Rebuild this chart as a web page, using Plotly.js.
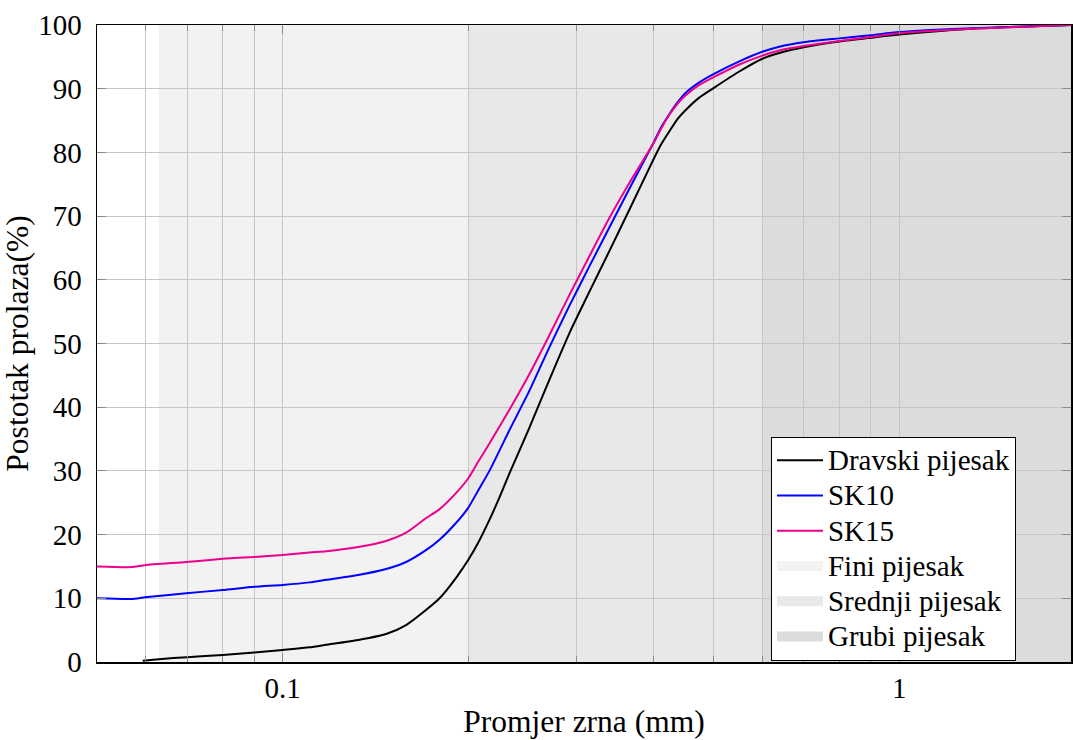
<!DOCTYPE html>
<html>
<head>
<meta charset="utf-8">
<script src="https://cdn.plot.ly/plotly-3.0.1.min.js"></script>
<style>
  html, body { margin: 0; padding: 0; background: #fff; }
  #chart { width: 1073px; height: 740px; }
</style>
</head>
<body>
<div id="chart"></div>
<script>
// ---- data ----
const dravskiX = [0.0593, 0.063, 0.07, 0.08, 0.09, 0.1, 0.1106, 0.1177, 0.1333, 0.1472, 0.1586, 0.171, 0.1797, 0.1914, 0.2, 0.2078, 0.2165, 0.2247, 0.2333, 0.2514, 0.2708, 0.2918, 0.3144, 0.3388, 0.3651, 0.4, 0.4114, 0.4239, 0.4367, 0.4511, 0.474, 0.5, 0.5505, 0.6, 0.639, 0.7, 0.8, 0.9, 1.0, 1.313, 1.9];
const dravskiY = [0.2, 0.45, 0.75, 1.1, 1.5, 1.9, 2.3, 2.7, 3.5, 4.4, 5.8, 8.2, 10.0, 13.3, 16.0, 18.8, 22.3, 25.8, 29.6, 36.8, 44.3, 51.6, 58.1, 64.5, 71.0, 79.0, 81.3, 83.3, 85.2, 86.7, 88.6, 90.1, 92.7, 94.7, 95.6, 96.5, 97.4, 98.0, 98.5, 99.4, 100];

const sk10X = [0.05, 0.0568, 0.0598, 0.0698, 0.08, 0.09, 0.1, 0.1106, 0.1177, 0.1333, 0.1472, 0.1586, 0.171, 0.1797, 0.1914, 0.2, 0.2078, 0.2165, 0.2333, 0.2514, 0.2708, 0.2918, 0.3144, 0.3388, 0.3651, 0.4, 0.4114, 0.4239, 0.4367, 0.4511, 0.474, 0.5, 0.5505, 0.6, 0.639, 0.7, 0.8, 0.9, 1.0, 1.313, 1.9];
const sk10Y = [10.0, 9.9, 10.15, 10.8, 11.3, 11.8, 12.1, 12.5, 12.9, 13.7, 14.6, 15.7, 17.6, 19.2, 21.9, 24.2, 27.0, 30.0, 36.4, 42.6, 49.4, 55.9, 62.1, 68.2, 74.3, 81.6, 84.0, 86.0, 87.8, 89.4, 91.0, 92.3, 94.3, 95.8, 96.6, 97.3, 97.9, 98.4, 98.9, 99.5, 100];

const sk15X = [0.05, 0.0568, 0.0598, 0.0698, 0.08, 0.09, 0.1, 0.1106, 0.1177, 0.1333, 0.1472, 0.1586, 0.171, 0.1797, 0.1914, 0.2, 0.2078, 0.2165, 0.2333, 0.2514, 0.2708, 0.2918, 0.3144, 0.3388, 0.3651, 0.4, 0.4114, 0.4239, 0.4367, 0.4511, 0.474, 0.5, 0.5505, 0.6, 0.639, 0.7, 0.8, 0.9, 1.0, 1.313, 1.9];
const sk15Y = [15.0, 14.9, 15.2, 15.7, 16.2, 16.5, 16.8, 17.2, 17.4, 18.1, 19.0, 20.3, 22.6, 24.0, 26.6, 28.8, 31.5, 34.3, 39.6, 45.2, 51.3, 57.6, 63.7, 69.7, 75.2, 81.5, 83.8, 85.9, 87.6, 89.0, 90.6, 91.8, 93.8, 95.2, 96.0, 96.7, 97.5, 98.1, 98.7, 99.4, 100];

// sand fraction zones (mm)
const zoneNames = ["Fini pijesak", "Srednji pijesak", "Grubi pijesak"];
const zoneStart = [0.063, 0.2, 0.6];
const zoneEnd   = [0.2, 0.6, 1.9];

// axis ticks
const xTickVals = [0.1, 1];
const xTickText = ["0.1", "1"];
const xMinorVals = [0.06, 0.07, 0.08, 0.09, 0.2, 0.3, 0.4, 0.5, 0.6, 0.7, 0.8, 0.9];
const xRange = [0.05, 1.9];
const yRange = [0, 100];

// ---- styles ----
const zoneColors = ["#f2f2f2", "#e8e8e8", "#dcdcdc"];
const FONT = "Liberation Serif, Times New Roman, DejaVu Serif, serif";
const GRID = "#c6c6c6";
const LEG_TEXT = (s) => '<span style="font-size:29px">' + s + '</span>';

const traces = [
  {x: dravskiX, y: dravskiY, name: LEG_TEXT("Dravski pijesak"), mode: "lines",
   line: {color: "#000000", width: 2, shape: "spline", smoothing: 0.6}},
  {x: sk10X, y: sk10Y, name: LEG_TEXT("SK10"), mode: "lines",
   line: {color: "#0000ff", width: 2, shape: "spline", smoothing: 0.6}},
  {x: sk15X, y: sk15Y, name: LEG_TEXT("SK15"), mode: "lines",
   line: {color: "#ec008c", width: 2, shape: "spline", smoothing: 0.6}}
];
// legend swatches for zones
zoneNames.forEach((n, i) => {
  traces.push({x: [null], y: [null], name: LEG_TEXT(n), mode: "lines",
    line: {color: zoneColors[i], width: 16}, hoverinfo: "skip"});
});

const shapes = zoneNames.map((n, i) => ({
  type: "rect", xref: "x", yref: "y", layer: "below",
  x0: zoneStart[i], x1: zoneEnd[i], y0: yRange[0], y1: yRange[1],
  fillcolor: zoneColors[i], line: {width: 0}
}));

const layout = {
  width: 1073, height: 740,
  margin: {l: 97, r: 2, t: 25, b: 78, pad: 0},
  paper_bgcolor: "#ffffff", plot_bgcolor: "#ffffff",
  font: {family: FONT, size: 29, color: "#000"},
  showlegend: true,
  legend: {
    x: 0.9435, xanchor: "right", y: 0.002, yanchor: "bottom",
    bgcolor: "#ffffff", bordercolor: "#000000", borderwidth: 1,
    font: {family: FONT, size: 24.8, color: "#000"},
    tracegroupgap: 0, itemwidth: 46
  },
  xaxis: {
    type: "log", range: xRange.map(Math.log10),
    tickmode: "array", tickvals: xTickVals, ticktext: xTickText,
    showgrid: true, gridcolor: GRID, gridwidth: 1,
    ticks: "inside", ticklen: 9, tickcolor: "#8a8a8a", tickwidth: 1,
    showline: true, linecolor: "#000", linewidth: 1.5, mirror: "allticks",
    zeroline: false,
    minor: {tickmode: "array", tickvals: xMinorVals, showgrid: true, gridcolor: GRID, gridwidth: 1,
            ticks: "inside", ticklen: 6, tickcolor: "#8a8a8a"},
    tickfont: {family: FONT, size: 29},
    title: {text: "Promjer zrna (mm)", font: {family: FONT, size: 31.5}, standoff: 6}
  },
  yaxis: {
    range: yRange, tickmode: "linear", tick0: 0, dtick: 10,
    showgrid: true, gridcolor: GRID, gridwidth: 1,
    ticks: "inside", ticklen: 9, tickcolor: "#8a8a8a",
    showline: true, linecolor: "#000", linewidth: 1.5, mirror: "allticks",
    zeroline: false, ticklabelstandoff: 8,
    tickfont: {family: FONT, size: 29},
    title: {text: "Postotak prolaza(%)", font: {family: FONT, size: 31.5}, standoff: 4}
  },
  shapes: shapes
};

Plotly.newPlot("chart", traces, layout, {staticPlot: true, displayModeBar: false});
</script>
</body>
</html>
